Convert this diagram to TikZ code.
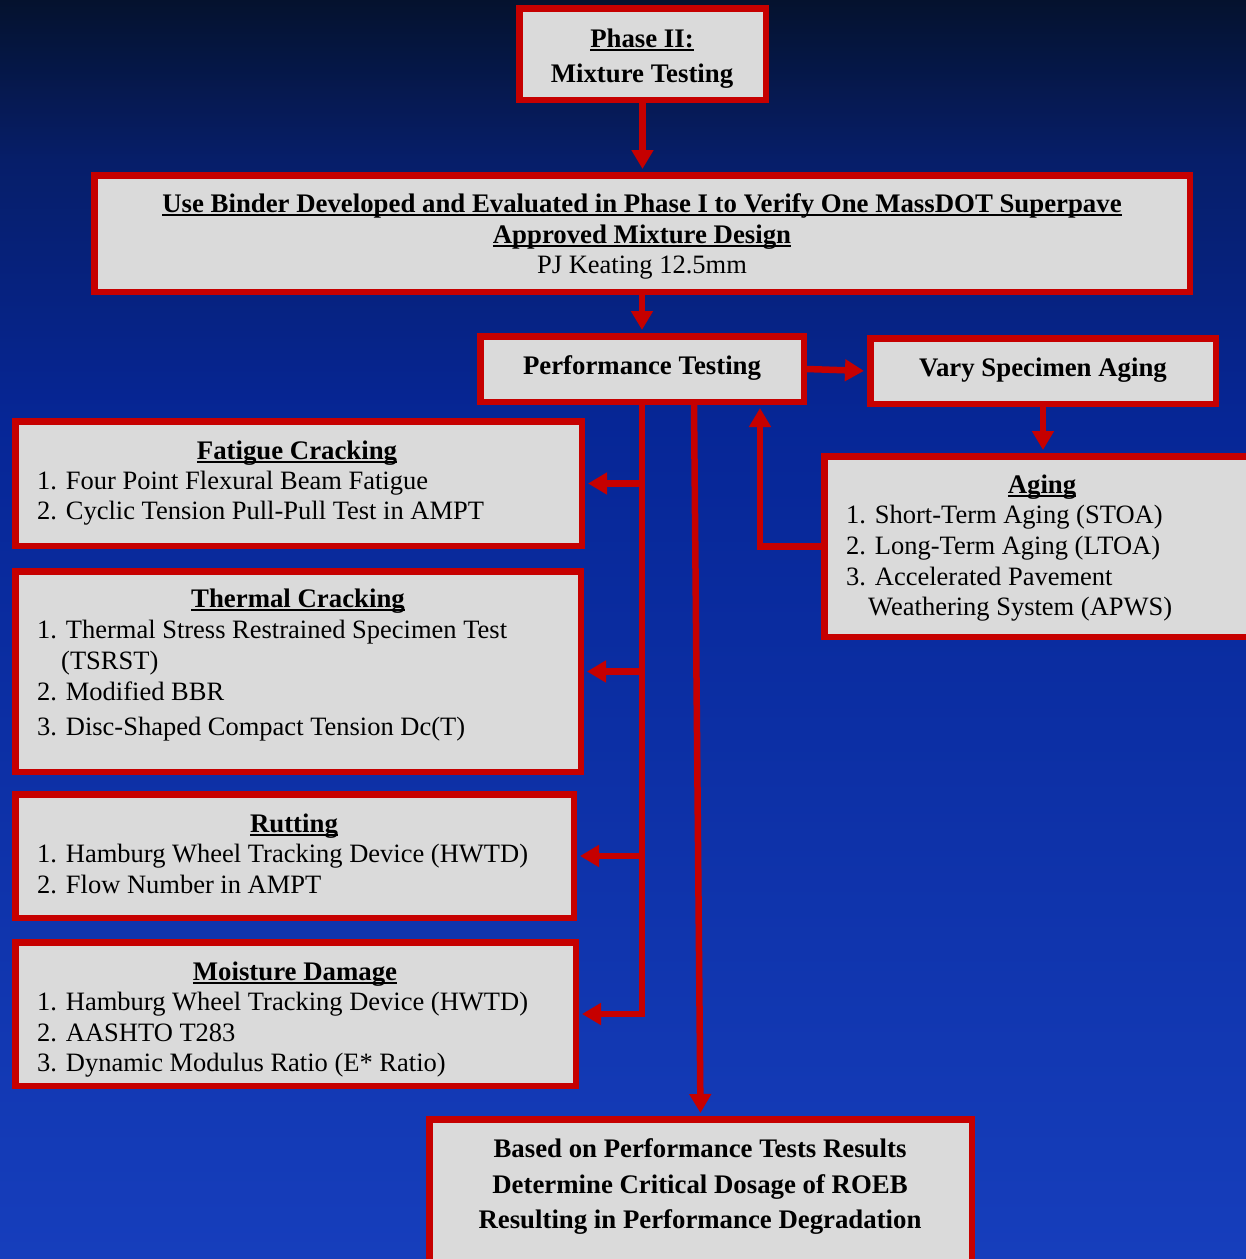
\documentclass[tikz,border=0pt]{standalone}
\usepackage{fontspec}
\setmainfont{Liberation Serif}
\usetikzlibrary{arrows.meta}
\definecolor{bgA}{RGB}{5,18,46}
\definecolor{bgB}{RGB}{6,30,105}
\definecolor{bgC}{RGB}{6,38,150}
\definecolor{bgD}{RGB}{22,62,188}
\definecolor{boxred}{RGB}{198,0,0}
\definecolor{boxfill}{RGB}{218,218,218}
\newcommand\myul[1]{\setbox0\hbox{#1}\rlap{\rule[-3.5pt]{\wd0}{2pt}}\box0}
\begin{document}
\begin{tikzpicture}[x=1pt,y=-1pt,
  box/.style={draw=boxred, fill=boxfill, line width=6.5pt, rectangle, inner sep=0pt},
  arr/.style={draw=boxred, line width=6.5pt, -{Triangle[length=19pt,width=21pt]}, shorten >=3pt},
  txt/.style={inner sep=0pt, font=\fontsize{26.5}{31}\selectfont, text=black},
  ttl/.style={inner sep=0pt, font=\fontsize{26.8}{31}\selectfont\bfseries, text=black}]
\useasboundingbox (0,0) rectangle (1246,1259);
\clip (0,0) rectangle (1246,1259);
\shade[top color=bgA, bottom color=bgB] (0,0) rectangle (1246,160);
\shade[top color=bgB, bottom color=bgC] (0,159.5) rectangle (1246,420);
\shade[top color=bgC, bottom color=bgD] (0,419.5) rectangle (1246,1259);

% boxes
\node[box, minimum width=246.5pt, minimum height=91.5pt] (phase) at (642.5,54) {};
\node[box, minimum width=1095.5pt, minimum height=116.5pt] (big) at (642,233.5) {};
\node[box, minimum width=323.5pt, minimum height=65.5pt] (perf) at (642,369) {};
\node[box, minimum width=345.5pt, minimum height=65.5pt] (vary) at (1043,371) {};
\node[box, minimum width=566.5pt, minimum height=124.5pt] (fat) at (298.5,483.5) {};
\node[box, minimum width=565.5pt, minimum height=200.5pt] (therm) at (298,671.5) {};
\node[box, minimum width=558.5pt, minimum height=123.5pt] (rut) at (294.5,856) {};
\node[box, minimum width=560.5pt, minimum height=143.5pt] (moist) at (295.5,1014) {};
\node[box, minimum width=432.5pt, minimum height=180.5pt] (aging) at (1040.5,546.5) {};
\node[box, minimum width=542.5pt, minimum height=152.5pt] (final) at (700.5,1195.5) {};

% connectors
\draw[arr] (phase.south) -- (phase.south |- big.north);
\draw[arr] (big.south) -- (perf.north);
\draw[arr] (perf.east) -- (vary.west);
\draw[arr] (vary.south) -- (vary.south |- aging.north);
\draw[arr] (perf.south) |- (moist.east);
\draw[arr] (perf.south |- fat.east) -- (fat.east);
\draw[arr] (perf.south |- therm.east) -- (therm.east);
\draw[arr] (perf.south |- rut.east) -- (rut.east);
\draw[arr] ([xshift=52pt]perf.south) -- (final.north);
\draw[arr] (aging.west) -| ([xshift=118pt]perf.south);

% texts
\node[ttl, anchor=base] (t1) at (642,47) {\myul{Phase II:}};
\node[ttl, anchor=base] (t2) at (642,82) {Mixture Testing};
\node[ttl, anchor=base] (t3) at (642,212) {\myul{Use Binder Developed and Evaluated in Phase I to Verify One MassDOT Superpave}};
\node[ttl, anchor=base] (t4) at (642,243) {\myul{Approved Mixture Design}};
\node[txt, anchor=base] (t5) at (642,273) {PJ Keating 12.5mm};
\node[ttl, anchor=base] (t6) at (642,374) {Performance Testing};
\node[ttl, anchor=base] (t7) at (1043,376) {Vary Specimen Aging};

\node[ttl, anchor=base] (f0) at (297,459) {\myul{Fatigue Cracking}};
\node[txt, anchor=base west] (f1) at (37,489) {1. Four Point Flexural Beam Fatigue};
\node[txt, anchor=base west] (f2) at (37,519) {2. Cyclic Tension Pull-Pull Test in AMPT};

\node[ttl, anchor=base] (h0) at (298,607) {\myul{Thermal Cracking}};
\node[txt, anchor=base west] (h1) at (37,638) {1. Thermal Stress Restrained Specimen Test};
\node[txt, anchor=base west] (h2) at (61,669) {(TSRST)};
\node[txt, anchor=base west] (h3) at (37,700) {2. Modified BBR};
\node[txt, anchor=base west] (h4) at (37,735) {3. Disc-Shaped Compact Tension Dc(T)};

\node[ttl, anchor=base] (r0) at (294,832) {\myul{Rutting}};
\node[txt, anchor=base west] (r1) at (37,862) {1. Hamburg Wheel Tracking Device (HWTD)};
\node[txt, anchor=base west] (r2) at (37,893) {2. Flow Number in AMPT};

\node[ttl, anchor=base] (m0) at (295,980) {\myul{Moisture Damage}};
\node[txt, anchor=base west] (m1) at (37,1010) {1. Hamburg Wheel Tracking Device (HWTD)};
\node[txt, anchor=base west] (m2) at (37,1041) {2. AASHTO T283};
\node[txt, anchor=base west] (m3) at (37,1071) {3. Dynamic Modulus Ratio (E* Ratio)};

\node[ttl, anchor=base] (a0) at (1042,493) {\myul{Aging}};
\node[txt, anchor=base west] (a1) at (846,523) {1. Short-Term Aging (STOA)};
\node[txt, anchor=base west] (a2) at (846,554) {2. Long-Term Aging (LTOA)};
\node[txt, anchor=base west] (a3) at (846,585) {3. Accelerated Pavement};
\node[txt, anchor=base west] (a4) at (868,615) {Weathering System (APWS)};

\node[ttl, anchor=base] (e1) at (700,1157) {Based on Performance Tests Results};
\node[ttl, anchor=base] (e2) at (700,1193) {Determine Critical Dosage of ROEB};
\node[ttl, anchor=base] (e3) at (700,1228) {Resulting in Performance Degradation};
\end{tikzpicture}
\end{document}
